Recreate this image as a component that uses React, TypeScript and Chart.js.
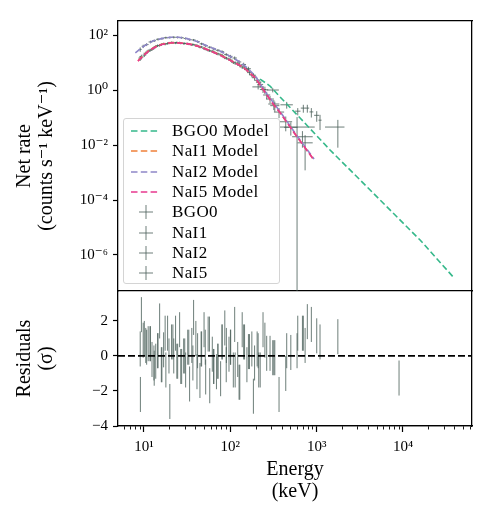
import React, { useEffect, useRef } from "react";
import { Chart, registerables } from "chart.js";

Chart.register(...registerables);

const SERIF = "'Liberation Serif', 'DejaVu Serif', serif";

// ---- axes ----
const energyRange = [5, 63000]; // keV
const rateRange = [4.9e-8, 324]; // counts s^-1 keV^-1
const residRange = [-4, 3.71]; // sigma
const rateTicks = [1e2, 1, 1e-2, 1e-4, 1e-6];
const energyMajorTicks = [10, 100, 1000, 10000];
const energyMinorTicks = [
  6, 7, 8, 9, 20, 30, 40, 50, 60, 70, 80, 90, 200, 300, 400, 500, 600, 700, 800, 900,
  2000, 3000, 4000, 5000, 6000, 7000, 8000, 9000, 20000, 30000, 40000, 50000, 60000,
];
const residTicks = [2, 0, -2, -4];

const detectorNames = ["BGO0", "NaI1", "NaI2", "NaI5"];
const modelColors = ["#35b88a", "#f0803a", "#8e86c8", "#e8388e"];
const dataColor = "rgba(72,94,88,0.8)";

// ---- folded model curves ----
const bgo0ModelEnergy = [221, 288, 397, 643, 1429, 5433, 15780, 39080];
const bgo0ModelRate = [2.51, 1.4, 0.471, 0.0959, 0.00661, 1.0e-4, 3.5e-6, 1.46e-7];
const naiModelEnergy = [8.51, 10, 11.75, 14.1, 15.8, 19.05, 22.4, 28.2, 33.9, 44.7, 56.2, 75.9, 100, 141, 195, 251, 316, 380, 562, 933];
const nai1ModelRate = [11.5, 19.0, 29.2, 39.3, 45.2, 51.8, 52.9, 50.5, 47.1, 37.5, 28.4, 18.8, 12.1, 6.8, 2.77, 0.86, 0.3, 0.146, 0.0253, 0.00284];
const nai5ModelRate = [11.2, 18.6, 28.8, 38.9, 44.7, 51.3, 52.5, 50.1, 46.8, 37.2, 28.2, 18.6, 12.0, 6.76, 2.75, 0.85, 0.3, 0.145, 0.0251, 0.00282];
const nai2ModelEnergy = [7.94, 10, 12.6, 15.8, 20, 25.1, 31.6, 39.8, 50.1, 75.9, 100, 129, 158, 195, 251, 380, 562, 933];
const nai2ModelRate = [22.4, 39.8, 60.3, 74.1, 83.2, 83.2, 74.1, 60.3, 44.7, 26.3, 16.6, 10.5, 6.31, 3.24, 0.91, 0.158, 0.0275, 0.00309];

// ---- NaI1 spectrum ----
const nai1Edges = [8.6, 9.6, 10.6, 11.8, 13.0, 14.4, 16.0, 17.8, 19.8, 22.0, 24.5, 27.3, 30.4, 33.9, 37.8, 42.1, 47.0, 52.4, 58.5, 65.4, 73.0, 81.6, 91.3, 102, 115, 129, 146, 166, 190, 220, 260, 320, 420, 600, 900];
const nai1Rate = [14.5, 18.6, 26.0, 30.2, 38.4, 41.8, 48.0, 49.2, 53.6, 51.4, 52.5, 49.0, 48.8, 43.9, 42.6, 36.5, 33.1, 28.2, 25.7, 21.4, 19.1, 15.1, 13.3, 10.2, 8.95, 6.9, 5.5, 3.52, 2.26, 1.04, 0.47, 0.158, 0.044, 0.012];
const nai1RelErr = [0.2, 0.15, 0.13, 0.12, 0.11, 0.1, 0.1, 0.1, 0.09, 0.09, 0.09, 0.09, 0.09, 0.09, 0.09, 0.1, 0.1, 0.1, 0.1, 0.11, 0.11, 0.12, 0.12, 0.13, 0.14, 0.15, 0.16, 0.18, 0.2, 0.25, 0.3, 0.4, 0.5, 0.9];
const nai1Resid = [-2.2, 1.0, 0.7, -0.2, -0.3, 2.0, 0.35, 1.3, 0.8, 1.3, 1.5, 0.0, 0.5, 0.6, 1.0, -1.4, 1.5, 1.25, 0.1, -0.9, -1.3, 1.6, 0.1, -0.8, -0.2, 1.5, -0.5, 0.4, 0.4, 1.5, 0.15, -2.2, 0.2, 0.6];

// ---- NaI2 spectrum ----
const nai2Edges = [8.7, 9.4, 10.2, 11.3, 12.5, 13.8, 15.3, 17.0, 18.9, 21.0, 23.3, 25.9, 28.8, 32.0, 35.6, 39.6, 44.1, 49.1, 54.7, 61.0, 68.0, 75.9, 84.8, 94.8, 106, 119, 134, 152, 173, 198, 230, 275, 370, 950];
const nai2Rate = [30, 39, 45, 56, 62, 70, 74, 80, 81, 83, 82, 80, 75, 68, 66, 58, 48, 41, 36, 31.5, 27.9, 24.8, 19.7, 16.8, 14.6, 10.5, 8.5, 5.95, 3.45, 1.95, 1.02, 0.31, 0.045];
const nai2RelErr = [0.18, 0.14, 0.12, 0.11, 0.1, 0.1, 0.09, 0.09, 0.09, 0.09, 0.09, 0.09, 0.09, 0.09, 0.09, 0.1, 0.1, 0.1, 0.1, 0.11, 0.11, 0.12, 0.12, 0.13, 0.14, 0.15, 0.16, 0.18, 0.2, 0.24, 0.3, 0.4, 1.3];
const nai2Resid = [0.4, 0.9, 0.5, 0.7, -0.7, 0.3, -0.5, -0.8, -2.6, 0.0, -0.3, -0.6, -0.8, -1.6, 2.2, 0.3, 0.4, -1.2, -1.7, -0.6, -0.3, 0.8, -0.5, 0.5, 1.8, -1.5, 0.8, 0.25, -2.3, -0.8, 0.9, -0.1, 0.3];

// ---- NaI5 spectrum ----
const nai5Edges = [8.8, 9.9, 11.1, 12.4, 13.7, 15.1, 16.7, 18.5, 20.5, 22.8, 25.3, 28.1, 31.3, 34.9, 38.9, 43.4, 48.5, 54.2, 60.6, 67.8, 75.9, 85.0, 95.3, 107, 121, 137, 156, 178, 205, 240, 290, 370, 520, 900];
const nai5Rate = [16.0, 21.8, 27.9, 34.0, 41.0, 45.5, 46.8, 51.0, 52.1, 53.4, 50.5, 49.6, 47.0, 45.5, 40.9, 36.8, 30.8, 26.9, 24.1, 20.6, 17.8, 14.4, 12.2, 9.6, 7.95, 6.4, 4.3, 2.8, 1.6, 0.66, 0.27, 0.07, 0.02];
const nai5RelErr = [0.2, 0.15, 0.13, 0.12, 0.11, 0.1, 0.1, 0.1, 0.09, 0.09, 0.09, 0.09, 0.09, 0.09, 0.1, 0.1, 0.1, 0.1, 0.11, 0.11, 0.12, 0.12, 0.13, 0.14, 0.15, 0.16, 0.18, 0.2, 0.24, 0.3, 0.4, 0.55, 0.6];
const nai5Resid = [2.36, 0.6, 0.7, -0.4, 0.3, -0.5, 1.3, 0.0, 0.8, -0.3, -0.6, 0.0, 0.5, -0.4, -0.9, 0.4, 0.5, 1.25, -0.6, -0.3, 0.8, 0.6, 0.5, -0.8, -1.5, 0.8, 0.25, -0.4, -0.8, 0.15, -0.1, -1.0, 1.3];

// ---- BGO0 spectrum (last bin has a negative net rate: residual only) ----
const bgo0Energy = [210, 310, 450, 604, 701, 780, 868, 1002, 1094, 1760, 9000];
const bgo0Lo = [180, 265, 380, 560, 655, 740, 825, 935, 1050, 1250, 4000];
const bgo0Hi = [245, 365, 530, 650, 745, 820, 915, 1070, 1140, 2100, 20000];
const bgo0Rate: (number | null)[] = [1.3, 1.0, 0.29, 0.17, 0.22, 0.22, 0.16, 0.12, 0.08, 0.045, null];
const bgo0Err: (number | null)[] = [0.25, 0.18, 0.08, 0.05, 0.07, 0.07, 0.06, 0.05, 0.045, 0.037, null];
const bgo0Resid = [0.3, -0.1, 0.3, 1.3, 1.3, 1.96, 1.8, 1.15, 0.8, 1.1, -1.26];

// lower error ends below zero run off the bottom of the log axis
const RATE_FLOOR = 1e-12;

type Pt = { x: number; y: number | null };

const lowEdges = (edges: number[]) => edges.slice(0, -1);
const highEdges = (edges: number[]) => edges.slice(1);
const centersOf = (edges: number[]) => lowEdges(edges).map((lo, i) => Math.sqrt(lo * edges[i + 1]));
const absErr = (rate: number[], rel: number[]) => rate.map((v, i) => v * rel[i]);

function crossPoints(energy: number[], lo: number[], hi: number[], rate: (number | null)[], err: (number | null)[]): Pt[] {
  const pts: Pt[] = [];
  energy.forEach((e, i) => {
    const v = rate[i];
    const s = err[i];
    if (v == null || s == null) return;
    pts.push({ x: e, y: Math.max(v - s, RATE_FLOOR) }, { x: e, y: v + s }, { x: e, y: null });
    pts.push({ x: lo[i], y: v }, { x: hi[i], y: v }, { x: hi[i], y: null });
  });
  return pts;
}

function residPoints(energy: number[], resid: number[]): Pt[] {
  const pts: Pt[] = [];
  energy.forEach((e, i) => {
    pts.push({ x: e, y: resid[i] - 1 }, { x: e, y: resid[i] + 1 }, { x: e, y: null });
  });
  return pts;
}

const toXY = (xs: number[], ys: number[]): Pt[] => xs.map((x, i) => ({ x, y: ys[i] }));

const SUP: Record<string, string> = { "0": "⁰", "1": "¹", "2": "²", "3": "³", "4": "⁴", "5": "⁵", "6": "⁶", "7": "⁷", "8": "⁸", "9": "⁹", "-": "⁻" };
const powerLabel = (v: number) =>
  "10" + String(Math.round(Math.log10(v))).split("").map((c) => SUP[c]).join("");

const frame = { display: true, color: "#000", width: 1.3 };
const bareGrid = { drawOnChartArea: false, drawTicks: false };
const tickFont = { family: SERIF, size: 15 };
const titleFont = { family: SERIF, size: 20, lineHeight: 1.1 };

function zeroPad(s: any) {
  s.paddingLeft = 0;
  s.paddingRight = 0;
  s.paddingTop = 0;
  s.paddingBottom = 0;
}

const errorLine = (label: string, data: Pt[], order: number) => ({
  label,
  data,
  borderColor: dataColor,
  borderWidth: 1,
  pointRadius: 0,
  pointHoverRadius: 0,
  spanGaps: false,
  fill: false,
  order,
});

const modelLine = (label: string, data: Pt[], color: string, order: number) => ({
  label,
  data,
  borderColor: color,
  borderWidth: 1.6,
  borderDash: [6, 3],
  pointRadius: 0,
  pointHoverRadius: 0,
  fill: false,
  order,
});

function SpectrumLegend() {
  const rows = [
    ...detectorNames.map((d, i) => ({ label: `${d} Model`, color: modelColors[i], model: true })),
    ...detectorNames.map((d) => ({ label: d, color: dataColor, model: false })),
  ];
  return (
    <div
      style={{
        position: "absolute",
        left: 123,
        top: 118,
        width: 157,
        height: 166,
        boxSizing: "border-box",
        border: "1px solid #d4d4d4",
        borderRadius: 3,
        background: "rgba(255,255,255,0.8)",
        fontFamily: SERIF,
        fontSize: 17,
        letterSpacing: 0.4,
        color: "#000",
      }}
    >
      {rows.map((r, i) => (
        <div key={r.label} style={{ position: "absolute", left: 0, top: 2 + i * 20.3, height: 20, width: "100%" }}>
          <svg width={30} height={20} style={{ position: "absolute", left: 6, top: 0 }}>
            {r.model ? (
              <line x1={1} y1={10} x2={29} y2={10} stroke={r.color} strokeWidth={1.6} strokeDasharray="6.5 3.3" />
            ) : (
              <g stroke={r.color} strokeWidth={1}>
                <line x1={9} y1={10} x2={23} y2={10} />
                <line x1={16} y1={3} x2={16} y2={17} />
              </g>
            )}
          </svg>
          <span style={{ position: "absolute", left: 48, top: 0, lineHeight: "20px", whiteSpace: "nowrap" }}>{r.label}</span>
        </div>
      ))}
    </div>
  );
}

export default function App() {
  const topRef = useRef<HTMLCanvasElement | null>(null);
  const bottomRef = useRef<HTMLCanvasElement | null>(null);

  useEffect(() => {
    const nai1E = centersOf(nai1Edges);
    const nai2E = centersOf(nai2Edges);
    const nai5E = centersOf(nai5Edges);

    const top = new Chart(topRef.current as HTMLCanvasElement, {
      type: "line",
      data: {
        datasets: [
          modelLine("BGO0 Model", toXY(bgo0ModelEnergy, bgo0ModelRate), modelColors[0], 4),
          modelLine("NaI1 Model", toXY(naiModelEnergy, nai1ModelRate), modelColors[1], 3),
          modelLine("NaI2 Model", toXY(nai2ModelEnergy, nai2ModelRate), modelColors[2], 2),
          modelLine("NaI5 Model", toXY(naiModelEnergy, nai5ModelRate), modelColors[3], 1),
          errorLine("BGO0", crossPoints(bgo0Energy, bgo0Lo, bgo0Hi, bgo0Rate, bgo0Err), 5),
          errorLine("NaI1", crossPoints(nai1E, lowEdges(nai1Edges), highEdges(nai1Edges), nai1Rate, absErr(nai1Rate, nai1RelErr)), 6),
          errorLine("NaI2", crossPoints(nai2E, lowEdges(nai2Edges), highEdges(nai2Edges), nai2Rate, absErr(nai2Rate, nai2RelErr)), 7),
          errorLine("NaI5", crossPoints(nai5E, lowEdges(nai5Edges), highEdges(nai5Edges), nai5Rate, absErr(nai5Rate, nai5RelErr)), 8),
        ] as any,
      },
      options: {
        responsive: false,
        animation: false,
        events: [],
        layout: { padding: { left: 0, right: 23, top: 21, bottom: 0 } },
        plugins: { legend: { display: false }, tooltip: { enabled: false } },
        scales: {
          x: {
            type: "logarithmic",
            position: "bottom",
            min: energyRange[0],
            max: energyRange[1],
            bounds: "data",
            ticks: { display: false },
            grid: bareGrid,
            border: frame,
            afterFit: (s: any) => {
              s.height = 9;
              zeroPad(s);
            },
          },
          xTop: {
            type: "logarithmic",
            position: "top",
            min: energyRange[0],
            max: energyRange[1],
            bounds: "data",
            ticks: { display: false },
            grid: bareGrid,
            border: frame,
            afterFit: (s: any) => {
              s.height = 0;
              zeroPad(s);
            },
          },
          y: {
            type: "logarithmic",
            position: "left",
            min: rateRange[0],
            max: rateRange[1],
            bounds: "data",
            afterBuildTicks: (s: any) => {
              s.ticks = rateTicks.map((value) => ({ value }));
            },
            ticks: { font: tickFont, color: "#000", padding: 5, autoSkip: false, callback: (v: any) => powerLabel(Number(v)) },
            grid: { drawOnChartArea: false, tickLength: 5, tickColor: "#000", tickWidth: 1.2 },
            border: frame,
            title: {
              display: true,
              text: ["Net rate", "(counts s⁻¹ keV⁻¹)"],
              font: titleFont,
              color: "#000",
              padding: { top: 14, bottom: 0 },
            },
            afterFit: (s: any) => {
              s.width = 118;
              zeroPad(s);
            },
          },
          yRight: {
            type: "logarithmic",
            position: "right",
            min: rateRange[0],
            max: rateRange[1],
            bounds: "data",
            ticks: { display: false },
            grid: bareGrid,
            border: frame,
            afterFit: (s: any) => {
              s.width = 0;
              zeroPad(s);
            },
          },
        },
      } as any,
    });

    const bottom = new Chart(bottomRef.current as HTMLCanvasElement, {
      type: "line",
      data: {
        datasets: [
          {
            label: "zero",
            data: toXY(energyRange, [0, 0]),
            borderColor: "#000",
            borderWidth: 1.7,
            borderDash: [7, 3],
            pointRadius: 0,
            pointHoverRadius: 0,
            fill: false,
            order: 0,
          },
          errorLine("BGO0", residPoints(bgo0Energy, bgo0Resid), 1),
          errorLine("NaI1", residPoints(nai1E, nai1Resid), 2),
          errorLine("NaI2", residPoints(nai2E, nai2Resid), 3),
          errorLine("NaI5", residPoints(nai5E, nai5Resid), 4),
        ] as any,
      },
      options: {
        responsive: false,
        animation: false,
        events: [],
        layout: { padding: { left: 0, right: 23, top: 0, bottom: 0 } },
        plugins: { legend: { display: false }, tooltip: { enabled: false } },
        scales: {
          xMinor: {
            type: "logarithmic",
            position: "bottom",
            weight: 0,
            min: energyRange[0],
            max: energyRange[1],
            bounds: "data",
            afterBuildTicks: (s: any) => {
              s.ticks = energyMinorTicks.map((value) => ({ value }));
            },
            ticks: { display: false },
            grid: { drawOnChartArea: false, tickLength: 3.5, tickColor: "#000", tickWidth: 0.9 },
            border: frame,
            afterFit: (s: any) => {
              s.height = 0;
              zeroPad(s);
            },
          },
          x: {
            type: "logarithmic",
            position: "bottom",
            weight: 1,
            min: energyRange[0],
            max: energyRange[1],
            bounds: "data",
            afterBuildTicks: (s: any) => {
              s.ticks = energyMajorTicks.map((value) => ({ value }));
            },
            ticks: {
              font: tickFont,
              color: "#000",
              padding: 6,
              autoSkip: false,
              maxRotation: 0,
              callback: (v: any) => powerLabel(Number(v)),
            },
            grid: { drawOnChartArea: false, tickLength: 6, tickColor: "#000", tickWidth: 1.2 },
            border: frame,
            title: {
              display: true,
              text: ["Energy", "(keV)"],
              font: titleFont,
              color: "#000",
              padding: { top: 0, bottom: 17 },
            },
            afterFit: (s: any) => {
              s.height = 94;
              zeroPad(s);
            },
          },
          y: {
            type: "linear",
            position: "left",
            min: residRange[0],
            max: residRange[1],
            bounds: "data",
            afterBuildTicks: (s: any) => {
              s.ticks = residTicks.map((value) => ({ value }));
            },
            ticks: {
              font: tickFont,
              color: "#000",
              padding: 5,
              autoSkip: false,
              callback: (v: any) => (Number(v) < 0 ? "−" + Math.abs(Number(v)) : String(v)),
            },
            grid: { drawOnChartArea: false, tickLength: 5, tickColor: "#000", tickWidth: 1.2 },
            border: frame,
            title: {
              display: true,
              text: ["Residuals", "(σ)"],
              font: titleFont,
              color: "#000",
              padding: { top: 14, bottom: 0 },
            },
            afterFit: (s: any) => {
              s.width = 118;
              zeroPad(s);
            },
          },
          yRight: {
            type: "linear",
            position: "right",
            min: residRange[0],
            max: residRange[1],
            bounds: "data",
            ticks: { display: false },
            grid: bareGrid,
            border: frame,
            afterFit: (s: any) => {
              s.width = 0;
              zeroPad(s);
            },
          },
        },
      } as any,
    });

    return () => {
      top.destroy();
      bottom.destroy();
    };
  }, []);

  return (
    <div style={{ position: "absolute", left: 0, top: 0, width: 495, height: 520, background: "#fff" }}>
      <canvas ref={topRef} width={495} height={300} style={{ position: "absolute", left: 0, top: 0, display: "block" }} />
      <canvas ref={bottomRef} width={495} height={229} style={{ position: "absolute", left: 0, top: 291, display: "block" }} />
      <SpectrumLegend />
    </div>
  );
}
